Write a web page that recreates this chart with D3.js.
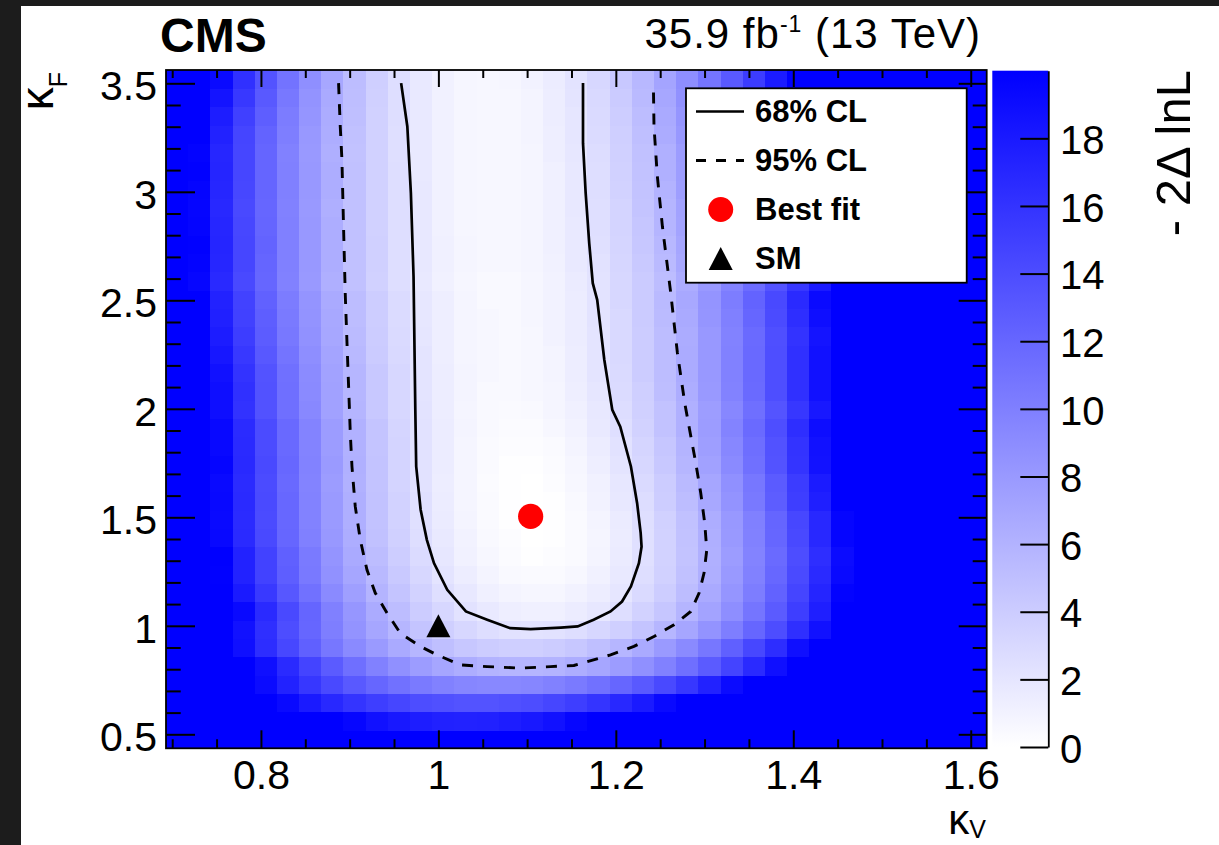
<!DOCTYPE html>
<html><head><meta charset="utf-8">
<script src="https://cdn.jsdelivr.net/npm/d3@7"></script>
<style>body{margin:0;background:#fff;overflow:hidden}svg{display:block}</style>
</head><body><svg id="c" width="1219" height="845"></svg>
<script>
// ---------------- data ----------------
const kvCenters = [0.7055,0.7305,0.7555,0.7805,0.8055,0.8305,0.8555,0.8805,0.9055,0.9305,0.9555,0.9805,1.0055,1.0305,1.0555,1.0805,1.1055,1.1305,1.1555,1.1805,1.2055,1.2305,1.2555,1.2805,1.3055,1.3305,1.3555,1.3805,1.4055,1.4305,1.4555,1.4805,1.5055,1.5305,1.5555,1.5805,1.6055];
const kfCenters = [0.4777,0.5622,0.6467,0.7311,0.8156,0.9001,0.9846,1.0691,1.1535,1.2380,1.3225,1.4070,1.4915,1.5759,1.6604,1.7449,1.8294,1.9139,1.9983,2.0828,2.1673,2.2518,2.3363,2.4207,2.5052,2.5897,2.6742,2.7587,2.8431,2.9276,3.0121,3.0966,3.1811,3.2655,3.3500,3.4345,3.5190];
// -2 Delta lnL, one row per kappa_F bin (bottom to top), one value per kappa_V bin
const nll = [
[25,25,25,25,25,25,25,24.2,23.3,22.6,22.1,21.7,21.5,21.5,21.7,22.0,22.5,23.2,24.0,25,25,25,25,25,25,25,25,25,25,25,25,25,25,25,25,25,25],
[25,25,25,25,24.5,23.0,21.6,20.5,19.5,18.7,18.1,17.7,17.4,17.3,17.4,17.7,18.1,18.7,19.5,20.5,21.6,23.0,24.5,25,25,25,25,25,25,25,25,25,25,25,25,25,25],
[25,25,24.2,22.4,20.8,19.3,18.0,16.9,15.9,15.1,14.5,14.0,13.7,13.5,13.5,13.7,14.0,14.5,15.1,15.9,16.9,18.0,19.3,20.8,22.4,24.2,25,25,25,25,25,25,25,25,25,25,25],
[25,25,23.1,21.0,19.1,17.3,15.7,14.3,13.0,12.0,11.1,10.4,9.9,9.5,9.3,9.3,9.5,9.9,10.4,11.1,12.0,13.0,14.3,15.7,17.3,19.1,21.0,23.1,25,25,25,25,25,25,25,25,25],
[25,25,23.8,21.2,18.8,16.7,14.7,12.9,11.3,9.9,8.7,7.8,7.0,6.4,6.0,5.8,5.8,6.0,6.4,7.0,7.8,8.7,9.9,11.3,12.9,14.7,16.7,18.8,21.2,23.8,25,25,25,25,25,25,25],
[25,24.0,21.3,18.8,16.5,14.4,12.5,10.7,9.2,7.9,6.7,5.7,5.0,4.4,4.0,3.8,3.8,4.0,4.4,5.0,5.7,6.7,7.9,9.2,10.7,12.5,14.4,16.5,18.8,21.3,24.0,25,25,25,25,25,25],
[25,24.2,21.3,18.7,16.3,14.0,12.0,10.1,8.5,7.0,5.7,4.6,3.8,3.1,2.6,2.3,2.2,2.3,2.6,3.1,3.8,4.6,5.7,7.0,8.5,10.1,12.0,14.0,16.3,18.7,21.3,24.2,25,25,25,25,25],
[25,25,22.2,19.3,16.7,14.3,12.1,10.0,8.2,6.6,5.2,4.0,3.1,2.3,1.7,1.3,1.2,1.2,1.5,1.9,2.6,3.5,4.5,5.8,7.2,8.9,10.8,12.9,15.1,17.6,20.3,23.2,25,25,25,25,25],
[25,23.5,20.7,18.0,15.5,13.2,11.1,9.2,7.5,5.9,4.6,3.5,2.5,1.8,1.2,0.9,0.7,0.7,1.0,1.4,2.0,2.9,3.9,5.2,6.7,8.3,10.2,12.3,14.6,17.1,19.8,22.7,25,25,25,25,25],
[25,22.7,19.9,17.3,14.8,12.6,10.5,8.6,7.0,5.5,4.2,3.1,2.1,1.4,0.9,0.5,0.4,0.4,0.6,1.1,1.7,2.6,3.6,4.9,6.3,8.0,9.9,11.9,14.2,16.7,19.3,22.2,25,25,25,25,25],
[25,22.9,20.0,17.3,14.8,12.5,10.4,8.4,6.7,5.2,3.9,2.8,1.9,1.1,0.6,0.3,0.1,0.2,0.4,0.9,1.6,2.4,3.5,4.7,6.2,7.8,9.7,11.7,14.0,16.4,19.1,21.9,25,25,25,25,25],
[25,22.2,19.4,16.7,14.3,12.0,10.0,8.1,6.4,4.9,3.7,2.6,1.7,1.0,0.5,0.2,0.0,0.1,0.4,0.8,1.5,2.4,3.5,4.8,6.3,8.0,9.9,12.0,14.3,16.9,19.6,22.5,25,25,25,25,25],
[25,22.1,19.3,16.6,14.1,11.9,9.8,7.9,6.3,4.8,3.5,2.4,1.6,0.9,0.4,0.1,0.0,0.1,0.4,0.9,1.6,2.5,3.6,4.9,6.4,8.1,10.0,12.1,14.4,16.9,19.6,22.5,25,25,25,25,25],
[25,22.3,19.4,16.7,14.2,11.9,9.8,7.9,6.3,4.8,3.5,2.4,1.5,0.8,0.4,0.1,0.0,0.1,0.5,1.0,1.8,2.7,3.9,5.2,6.8,8.5,10.5,12.7,15.1,17.6,20.4,23.4,25,25,25,25,25],
[25,22.2,19.3,16.6,14.1,11.8,9.7,7.8,6.1,4.7,3.4,2.3,1.4,0.8,0.3,0.1,0.0,0.2,0.6,1.1,1.9,2.9,4.0,5.4,7.0,8.7,10.7,12.9,15.3,17.9,20.7,23.6,25,25,25,25,25],
[25,22.6,19.6,16.8,14.3,11.9,9.8,7.9,6.2,4.7,3.4,2.3,1.5,0.8,0.4,0.1,0.1,0.3,0.7,1.3,2.1,3.1,4.3,5.7,7.4,9.2,11.2,13.5,15.9,18.6,21.5,24.5,25,25,25,25,25],
[25,22.4,19.4,16.7,14.1,11.8,9.7,7.8,6.1,4.6,3.4,2.3,1.5,0.8,0.4,0.2,0.2,0.4,0.9,1.5,2.3,3.3,4.5,5.9,7.6,9.4,11.4,13.6,16.0,18.7,21.5,24.5,25,25,25,25,25],
[25,22.4,19.4,16.6,14.1,11.8,9.7,7.8,6.1,4.6,3.3,2.3,1.5,0.9,0.5,0.3,0.3,0.6,1.0,1.7,2.5,3.5,4.8,6.2,7.8,9.7,11.7,13.9,16.4,19.0,21.8,24.9,25,25,25,25,25],
[25,21.8,18.9,16.1,13.6,11.3,9.3,7.4,5.8,4.3,3.1,2.2,1.4,0.8,0.5,0.4,0.5,0.8,1.2,1.8,2.7,3.7,4.8,6.2,7.7,9.4,11.3,13.4,15.7,18.1,20.7,23.5,25,25,25,25,25],
[25,21.9,18.9,16.2,13.6,11.3,9.2,7.4,5.7,4.3,3.1,2.1,1.4,0.9,0.5,0.5,0.6,0.8,1.3,2.0,2.8,3.8,5.1,6.4,8.0,9.8,11.7,13.9,16.2,18.7,21.3,24.2,25,25,25,25,25],
[24.9,21.7,18.7,16.0,13.5,11.2,9.1,7.3,5.7,4.3,3.1,2.1,1.4,0.9,0.6,0.5,0.6,0.9,1.4,2.1,2.9,4.0,5.2,6.6,8.1,9.9,11.8,13.9,16.2,18.7,21.4,24.2,25,25,25,25,25],
[24.2,21.1,18.2,15.6,13.1,10.9,8.9,7.1,5.5,4.1,3.0,2.1,1.3,0.8,0.6,0.5,0.6,0.9,1.4,2.1,3.0,4.0,5.2,6.6,8.1,9.9,11.8,13.9,16.2,18.7,21.3,24.1,25,25,25,25,25],
[23.7,20.6,17.8,15.2,12.8,10.6,8.6,6.9,5.3,4.0,2.9,2.0,1.3,0.8,0.6,0.5,0.6,1.0,1.5,2.1,3.0,4.0,5.2,6.5,8.1,9.8,11.7,13.8,16.0,18.4,21.0,23.8,25,25,25,25,25],
[23.3,20.3,17.5,14.9,12.6,10.4,8.5,6.8,5.2,3.9,2.8,1.9,1.3,0.8,0.6,0.5,0.7,1.0,1.5,2.2,3.0,4.1,5.3,6.7,8.3,10.0,12.0,14.1,16.4,18.9,21.5,24.4,25,25,25,25,25],
[23.1,20.1,17.3,14.8,12.4,10.3,8.4,6.7,5.2,3.9,2.8,1.9,1.3,0.8,0.5,0.5,0.7,1.0,1.5,2.2,3.1,4.1,5.4,6.8,8.4,10.2,12.2,14.3,16.7,19.2,21.9,24.7,25,25,25,25,25],
[22.5,19.5,16.8,14.3,12.0,9.9,8.0,6.3,4.9,3.6,2.6,1.7,1.1,0.7,0.5,0.5,0.7,1.0,1.6,2.2,3.1,4.1,5.2,6.5,8.0,9.7,11.5,13.5,15.7,18.0,20.5,23.1,25,25,25,25,25],
[22.8,19.8,17.0,14.5,12.1,10.0,8.1,6.4,4.9,3.7,2.6,1.8,1.2,0.8,0.6,0.6,0.8,1.1,1.7,2.3,3.2,4.2,5.4,6.8,8.3,10.0,11.8,13.8,16.0,18.4,20.9,23.6,25,25,25,25,25],
[22.9,19.9,17.1,14.5,12.2,10.0,8.1,6.4,4.9,3.7,2.6,1.8,1.2,0.8,0.6,0.6,0.8,1.2,1.7,2.4,3.3,4.4,5.6,7.0,8.6,10.3,12.3,14.4,16.6,19.1,21.7,24.5,25,25,25,25,25],
[22.7,19.7,17.0,14.4,12.1,10.0,8.1,6.4,4.9,3.6,2.6,1.8,1.1,0.7,0.6,0.6,0.8,1.2,1.7,2.5,3.4,4.5,5.8,7.2,8.8,10.6,12.6,14.8,17.2,19.7,22.4,25,25,25,25,25,25],
[22.6,19.6,16.9,14.3,12.0,9.9,8.0,6.3,4.9,3.6,2.6,1.8,1.1,0.7,0.6,0.6,0.8,1.2,1.8,2.5,3.4,4.6,5.8,7.3,9.0,10.8,12.8,15.0,17.4,20.0,22.7,25,25,25,25,25,25],
[22.7,19.7,17.0,14.4,12.1,10.0,8.1,6.4,4.9,3.6,2.6,1.8,1.1,0.7,0.6,0.6,0.8,1.2,1.8,2.6,3.5,4.7,6.0,7.6,9.3,11.2,13.3,15.6,18.1,20.7,23.6,25,25,25,25,25,25],
[22.9,19.9,17.1,14.5,12.1,10.0,8.1,6.4,4.9,3.6,2.6,1.7,1.1,0.7,0.6,0.6,0.8,1.2,1.8,2.6,3.6,4.8,6.2,7.7,9.5,11.4,13.5,15.9,18.4,21.1,24.0,25,25,25,25,25,25],
[22.8,19.8,17.0,14.5,12.1,9.9,8.0,6.3,4.8,3.6,2.5,1.7,1.1,0.7,0.6,0.6,0.8,1.3,1.9,2.7,3.7,4.9,6.2,7.8,9.5,11.5,13.6,15.9,18.4,21.1,24.0,25,25,25,25,25,25],
[23.2,20.1,17.3,14.6,12.2,10.1,8.1,6.4,4.9,3.6,2.5,1.7,1.1,0.7,0.6,0.6,0.9,1.3,2.0,2.8,3.8,5.0,6.5,8.1,9.9,11.9,14.1,16.5,19.1,21.8,24.8,25,25,25,25,25,25],
[23.9,20.7,17.7,15.0,12.6,10.3,8.3,6.5,5.0,3.6,2.6,1.7,1.1,0.7,0.6,0.6,0.9,1.4,2.0,2.9,3.9,5.2,6.7,8.3,10.2,12.3,14.5,17.0,19.6,22.5,25,25,25,25,25,25,25],
[24.9,21.5,18.4,15.6,13.0,10.6,8.5,6.7,5.1,3.7,2.6,1.7,1.1,0.7,0.6,0.6,0.9,1.4,2.1,3.0,4.1,5.4,6.9,8.6,10.5,12.6,14.9,17.4,20.1,23.0,25,25,25,25,25,25,25],
[25,22.4,19.2,16.2,13.5,11.0,8.8,6.9,5.2,3.8,2.6,1.7,1.1,0.7,0.6,0.7,1.0,1.5,2.2,3.1,4.3,5.6,7.1,8.9,10.8,13.0,15.3,17.9,20.6,23.6,25,25,25,25,25,25,25]
];
// contours [kappa_V, kappa_F]
const contour68 = [[0.958,3.501],[0.965,3.301],[0.969,2.994],[0.972,2.610],[0.974,1.995],[0.975,1.734],[0.980,1.535],[0.987,1.396],[0.995,1.289],[1.010,1.166],[1.031,1.066],[1.055,1.028],[1.081,0.989],[1.104,0.985],[1.138,0.992],[1.157,0.997],[1.175,1.028],[1.194,1.066],[1.207,1.112],[1.217,1.181],[1.226,1.289],[1.229,1.365],[1.228,1.427],[1.224,1.565],[1.217,1.734],[1.205,1.918],[1.196,1.995],[1.187,2.226],[1.179,2.502],[1.174,2.579],[1.170,2.764],[1.166,2.994],[1.163,3.224],[1.163,3.501]];
const contour95 = [[0.8875,3.501],[0.8894,3.301],[0.8913,3.147],[0.8931,2.840],[0.8950,2.533],[0.8970,2.303],[0.8995,2.026],[0.9007,1.888],[0.9026,1.734],[0.9063,1.550],[0.9120,1.396],[0.9195,1.258],[0.9289,1.151],[0.9421,1.059],[0.9571,0.966],[0.9797,0.905],[0.9985,0.866],[1.0248,0.820],[1.0550,0.812],[1.0925,0.805],[1.1264,0.812],[1.1527,0.817],[1.1678,0.835],[1.1941,0.866],[1.2204,0.905],[1.2430,0.951],[1.2656,1.005],[1.2844,1.066],[1.2938,1.151],[1.2994,1.243],[1.3025,1.350],[1.3002,1.473],[1.2957,1.612],[1.2901,1.750],[1.2825,1.918],[1.2777,2.026],[1.2694,2.257],[1.2619,2.533],[1.2525,2.840],[1.2468,3.071],[1.2430,3.301],[1.2423,3.501]];
const bestFit = [1.104, 1.504];
const smPoint = [1.0, 1.0];
const xMajor = [0.8, 1, 1.2, 1.4, 1.6];
const yMajor = [0.5, 1, 1.5, 2, 2.5, 3, 3.5];
const zTicks = [0, 2, 4, 6, 8, 10, 12, 14, 16, 18];
const legendLabels = ["68% CL", "95% CL", "Best fit", "SM"];

// ---------------- drawing ----------------
const FONT = "'Liberation Sans', Arial, Helvetica, sans-serif";
const svg = d3.select("#c");
svg.append("rect").attr("width",1219).attr("height",845).attr("fill","#fff");
svg.append("rect").attr("x",0).attr("y",0).attr("width",21).attr("height",845).attr("fill","#1c1c1c");
svg.append("rect").attr("x",0).attr("y",0).attr("width",1219).attr("height",6).attr("fill","#1c1c1c");

const PL=166, PR=986.7, PT=70, PB=748.3;
const x = d3.scaleLinear().domain([0.693,1.618]).range([PL,PR]);
const y = d3.scaleLinear().domain([0.4355,3.5613]).range([PB,PT]);
const zMax = 20;
const color = d3.scaleLinear().domain([0,zMax]).range(["#ffffff","#0000ff"]).clamp(true);

svg.append("defs").append("clipPath").attr("id","pc").append("rect")
  .attr("x",PL).attr("y",PT).attr("width",PR-PL).attr("height",PB-PT);

const dxh = (kvCenters[1]-kvCenters[0])/2, dyh = (kfCenters[1]-kfCenters[0])/2;
const cells = [];
nll.forEach((row,j)=>row.forEach((v,i)=>cells.push({kv:kvCenters[i],kf:kfCenters[j],v})));
svg.append("g").attr("clip-path","url(#pc)").selectAll("rect").data(cells).join("rect")
  .attr("x",d=>x(d.kv-dxh)).attr("y",d=>y(d.kf+dyh))
  .attr("width",d=>x(d.kv+dxh)-x(d.kv-dxh)+0.6)
  .attr("height",d=>y(d.kf-dyh)-y(d.kf+dyh)+0.6)
  .attr("fill",d=>color(d.v)).attr("shape-rendering","crispEdges");

// contours
const line = d3.line().x(d=>x(d[0])).y(d=>y(d[1]));
svg.append("path").attr("d",line(contour95)).attr("fill","none").attr("stroke","#000")
  .attr("stroke-width",2.9).attr("stroke-dasharray","11,10");
svg.append("path").attr("d",line(contour68)).attr("fill","none").attr("stroke","#000")
  .attr("stroke-width",2.7);

// markers
const tri = "M0,-11.5L12,11.5L-12,11.5Z";
svg.append("circle").attr("cx",x(bestFit[0])).attr("cy",y(bestFit[1])).attr("r",12.6).attr("fill","#ff0000");
svg.append("path").attr("d",tri).attr("transform",`translate(${x(smPoint[0])},${y(smPoint[1])})`).attr("fill","#000");

// axes
const fmt = d3.format("~g");
function styleAxis(g){
  g.select(".domain").remove();
  g.selectAll(".tick line").attr("stroke","#000").attr("stroke-width",2);
  g.selectAll("text").attr("font-family",FONT).attr("font-size",41).attr("fill","#000");
}
const xMinor = d3.range(0.7,1.6001,0.05).filter(v=>!xMajor.some(m=>Math.abs(m-v)<1e-6));
const yMinor = d3.range(0.5,3.5001,0.1).filter(v=>!yMajor.some(m=>Math.abs(m-v)<1e-6));

svg.append("g").attr("transform",`translate(0,${PB})`)
  .call(d3.axisBottom(x).tickValues(xMajor).tickSizeInner(-18).tickSizeOuter(0).tickPadding(11.5).tickFormat(fmt))
  .call(styleAxis);
svg.append("g").attr("transform",`translate(0,${PB})`)
  .call(d3.axisBottom(x).tickValues(xMinor).tickSizeInner(-9).tickSizeOuter(0).tickFormat(""))
  .call(styleAxis);
svg.append("g").attr("transform",`translate(0,${PT})`)
  .call(d3.axisTop(x).tickValues(xMajor).tickSizeInner(-17).tickSizeOuter(0).tickFormat(""))
  .call(styleAxis);
svg.append("g").attr("transform",`translate(0,${PT})`)
  .call(d3.axisTop(x).tickValues(xMinor).tickSizeInner(-8).tickSizeOuter(0).tickFormat(""))
  .call(styleAxis);
const yl = svg.append("g").attr("transform",`translate(${PL},0)`)
  .call(d3.axisLeft(y).tickValues(yMajor).tickSizeInner(-29).tickSizeOuter(0).tickPadding(9).tickFormat(fmt))
  .call(styleAxis);
yl.selectAll("text").attr("dy","0.4em");
svg.append("g").attr("transform",`translate(${PL},0)`)
  .call(d3.axisLeft(y).tickValues(yMinor).tickSizeInner(-14.7).tickSizeOuter(0).tickFormat(""))
  .call(styleAxis);
svg.append("g").attr("transform",`translate(${PR},0)`)
  .call(d3.axisRight(y).tickValues(yMajor).tickSizeInner(-28).tickSizeOuter(0).tickFormat(""))
  .call(styleAxis);
svg.append("g").attr("transform",`translate(${PR},0)`)
  .call(d3.axisRight(y).tickValues(yMinor).tickSizeInner(-14).tickSizeOuter(0).tickFormat(""))
  .call(styleAxis);

// frame
svg.append("rect").attr("x",PL).attr("y",PT).attr("width",PR-PL).attr("height",PB-PT)
  .attr("fill","none").attr("stroke","#000").attr("stroke-width",1.8);

// colour bar
const CBL=992.3, CBR=1048.3, CBT=70.7, CBB=747;
const zc = d3.scaleLinear().domain([0,zMax]).range([CBB,CBT]);
const grad = svg.select("defs").append("linearGradient").attr("id","cbg")
  .attr("x1",0).attr("y1",1).attr("x2",0).attr("y2",0);
grad.append("stop").attr("offset",0).attr("stop-color",color(0));
grad.append("stop").attr("offset",1).attr("stop-color",color(zMax));
svg.append("rect").attr("x",CBL).attr("y",CBT).attr("width",CBR-CBL).attr("height",CBB-CBT).attr("fill","url(#cbg)");
const za = svg.append("g").attr("transform",`translate(${CBR},0)`)
  .call(d3.axisRight(zc).tickValues(zTicks).tickSizeInner(-28).tickSizeOuter(0).tickPadding(11.7).tickFormat(d3.format("d")));
za.select(".domain").attr("stroke","#000").attr("stroke-width",1.8);
za.selectAll(".tick line").attr("stroke","#000").attr("stroke-width",2);
za.selectAll("text").attr("font-family",FONT).attr("font-size",40).attr("fill","#000").attr("dy","0.38em");

// titles
svg.append("text").attr("x",160).attr("y",52).attr("font-family",FONT).attr("font-weight","bold")
  .attr("font-size",48).text("CMS");
const lumi = svg.append("text").attr("x",981).attr("y",48).attr("text-anchor","end")
  .attr("font-family",FONT).attr("font-size",42).attr("letter-spacing",1);
lumi.append("tspan").text("35.9 fb");
lumi.append("tspan").attr("font-size",23).attr("dy",-16).text("-1");
lumi.append("tspan").attr("dy",16).text(" (13 TeV)");

const xt = svg.append("text").attr("x",986).attr("y",834).attr("text-anchor","end")
  .attr("font-family",FONT).attr("font-size",42);
xt.append("tspan").text("κ");
xt.append("tspan").attr("font-size",25).attr("dy",4).text("V");

const yt = svg.append("text").attr("transform","translate(53,72) rotate(-90)").attr("text-anchor","end")
  .attr("font-family",FONT).attr("font-size",46);
yt.append("tspan").text("κ");
yt.append("tspan").attr("font-size",25).attr("dy",14).text("F");

svg.append("text").attr("transform","translate(1190,70) rotate(-90)").attr("text-anchor","end")
  .attr("font-family",FONT).attr("font-size",49).text("- 2Δ lnL");

// legend
const LX=686, LY=88.3, LW=280.7, LH=194.4;
svg.append("rect").attr("x",LX).attr("y",LY).attr("width",LW).attr("height",LH)
  .attr("fill","#fff").attr("stroke","#000").attr("stroke-width",1.8);
const rowY = i => 111.5 + i*49;
legendLabels.forEach((lab,i)=>{
  const cy = rowY(i);
  if(i===0) svg.append("line").attr("x1",696).attr("x2",744).attr("y1",cy).attr("y2",cy).attr("stroke","#000").attr("stroke-width",2.6);
  if(i===1) svg.append("line").attr("x1",696).attr("x2",744).attr("y1",cy).attr("y2",cy).attr("stroke","#000").attr("stroke-width",2.8).attr("stroke-dasharray","10,10");
  if(i===2) svg.append("circle").attr("cx",720.7).attr("cy",cy).attr("r",12.5).attr("fill","#ff0000");
  if(i===3) svg.append("path").attr("d",tri).attr("transform",`translate(720.7,${cy})`).attr("fill","#000");
  svg.append("text").attr("x",755).attr("y",cy+10.5).attr("font-family",FONT).attr("font-weight","bold")
    .attr("font-size",31).text(lab);
});
</script>
</body></html>
